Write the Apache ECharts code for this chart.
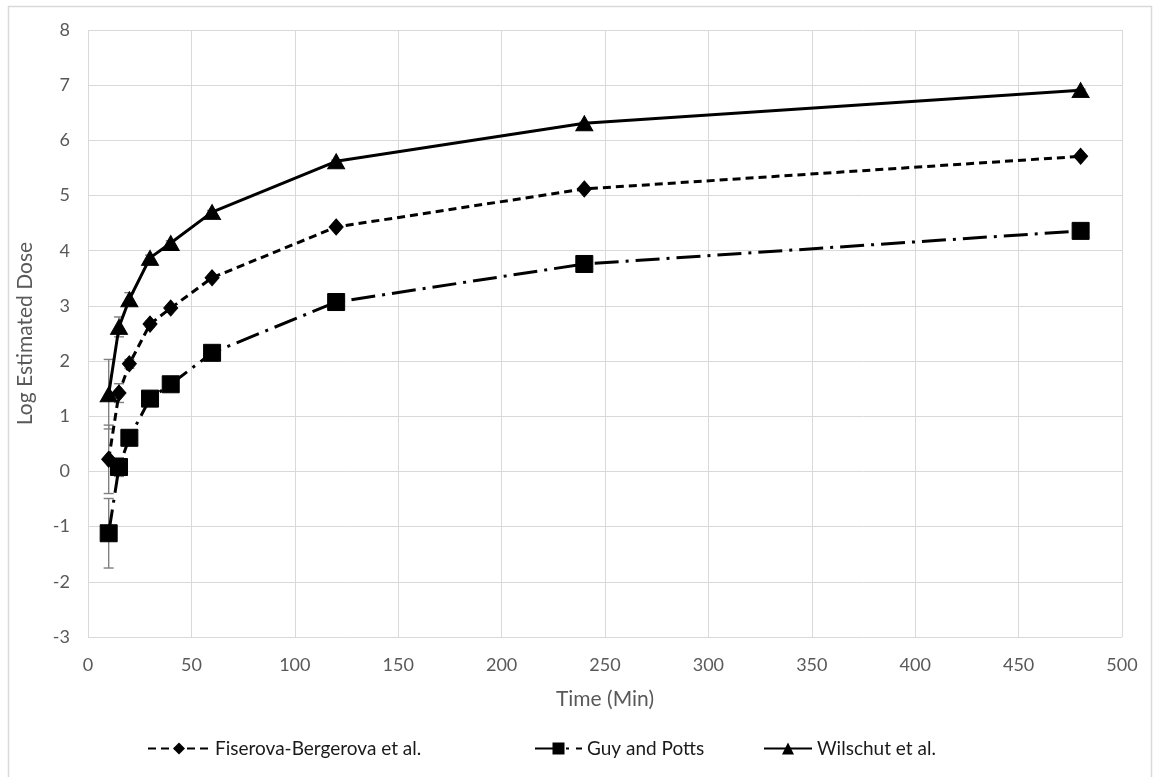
<!DOCTYPE html>
<html><head><meta charset="utf-8">
<script src="https://cdn.jsdelivr.net/npm/echarts@6/dist/echarts.min.js"></script>
<style>html,body{margin:0;padding:0;background:#fff}#c{width:1153px;height:777px}</style>
</head><body><div id="c"></div>
<script>
const times = [10, 15, 20, 30, 40, 60, 120, 240, 480];
const fiserova = [0.22, 1.42, 1.95, 2.67, 2.96, 3.51, 4.43, 5.12, 5.71];
const guy = [-1.12, 0.08, 0.61, 1.32, 1.58, 2.15, 3.07, 3.76, 4.36];
const wilschut = [1.40, 2.62, 3.12, 3.87, 4.14, 4.70, 5.62, 6.31, 6.91];
const errFiserova = [0.62, 0.17, 0.08, 0.05, 0.04, 0.03, 0.02, 0.02, 0.02];
const errGuy = [0.63, 0.17, 0.08, 0.05, 0.04, 0.03, 0.02, 0.02, 0.02];
const errWilschut = [0.63, 0.18, 0.12, 0.05, 0.04, 0.03, 0.02, 0.02, 0.02];
const names = ['Fiserova-Bergerova et al.', 'Guy and Potts', 'Wilschut et al.'];

const FONT = 'Lato';
const chart = echarts.init(document.getElementById('c'), null, {renderer: 'canvas'});

function pairs(ys) { return times.map((t, i) => [t, ys[i]]); }
function errData(ys, es) { return times.map((t, i) => [t, ys[i] - es[i], ys[i] + es[i]]); }
function errSeries(ys, es) {
  return {
    type: 'custom', silent: true, z: 1,
    data: errData(ys, es),
    renderItem: function (params, api) {
      const lo = api.coord([api.value(0), api.value(1)]);
      const hi = api.coord([api.value(0), api.value(2)]);
      const w = 5;
      const st = {stroke: '#7f7f7f', lineWidth: 1.4};
      return {type: 'group', children: [
        {type: 'line', shape: {x1: lo[0], y1: lo[1], x2: hi[0], y2: hi[1]}, style: st},
        {type: 'line', shape: {x1: lo[0] - w, y1: lo[1], x2: lo[0] + w, y2: lo[1]}, style: st},
        {type: 'line', shape: {x1: hi[0] - w, y1: hi[1], x2: hi[0] + w, y2: hi[1]}, style: st}
      ]};
    },
    encode: {x: 0, y: [1, 2]}
  };
}

const legendBase = {
  top: 734, itemHeight: 15,
  textStyle: {fontFamily: FONT, fontSize: 19, color: '#1a1a1a'}
};

chart.setOption({
  backgroundColor: '#fff',
  animation: false,
  graphic: [{type: 'rect', shape: {x: 8.5, y: 6.5, width: 1143, height: 800},
    style: {fill: 'none', stroke: '#d9d9d9', lineWidth: 1.5}, silent: true}],
  grid: {left: 88, right: 31, top: 30, bottom: 140},
  legend: [
    Object.assign({}, legendBase, {left: 142, itemWidth: 62, data: [names[0]]}),
    Object.assign({}, legendBase, {left: 529, itemWidth: 47, data: [names[1]]}),
    Object.assign({}, legendBase, {left: 758, itemWidth: 48, data: [names[2]]})
  ],
  xAxis: {
    type: 'value', min: 0, max: 500, interval: 50,
    name: 'Time (Min)', nameLocation: 'middle', nameGap: 52,
    nameTextStyle: {fontFamily: FONT, fontSize: 21, color: '#595959'},
    axisLine: {show: false}, axisTick: {show: false},
    axisLabel: {fontFamily: FONT, fontSize: 18, color: '#595959', margin: 19},
    splitLine: {show: true, lineStyle: {color: '#d9d9d9', width: 1}}
  },
  yAxis: {
    type: 'value', min: -3, max: 8, interval: 1,
    name: 'Log Estimated Dose', nameLocation: 'middle', nameGap: 52,
    nameTextStyle: {fontFamily: FONT, fontSize: 21, color: '#595959'},
    axisLine: {show: false}, axisTick: {show: false},
    axisLabel: {fontFamily: FONT, fontSize: 18, color: '#595959', margin: 18},
    splitLine: {show: true, lineStyle: {color: '#d9d9d9', width: 1}}
  },
  series: [
    errSeries(fiserova, errFiserova),
    errSeries(guy, errGuy),
    errSeries(wilschut, errWilschut),
    {name: names[0], type: 'line', data: pairs(fiserova), z: 3,
     symbol: 'diamond', symbolSize: [14, 16], showAllSymbol: true,
     lineStyle: {color: '#000', width: 3, type: [8, 5]},
     itemStyle: {color: '#000', borderColor: '#000'}},
    {name: names[1], type: 'line', data: pairs(guy), z: 3,
     symbol: 'rect', symbolSize: 17, showAllSymbol: true,
     lineStyle: {color: '#000', width: 3, type: [24, 7, 3, 7]},
     itemStyle: {color: '#000', borderColor: '#000'}},
    {name: names[2], type: 'line', data: pairs(wilschut), z: 3,
     symbol: 'triangle', symbolSize: [17, 15], showAllSymbol: true,
     lineStyle: {color: '#000', width: 3, type: 'solid'},
     itemStyle: {color: '#000', borderColor: '#000'}}
  ]
});
</script></body></html>
